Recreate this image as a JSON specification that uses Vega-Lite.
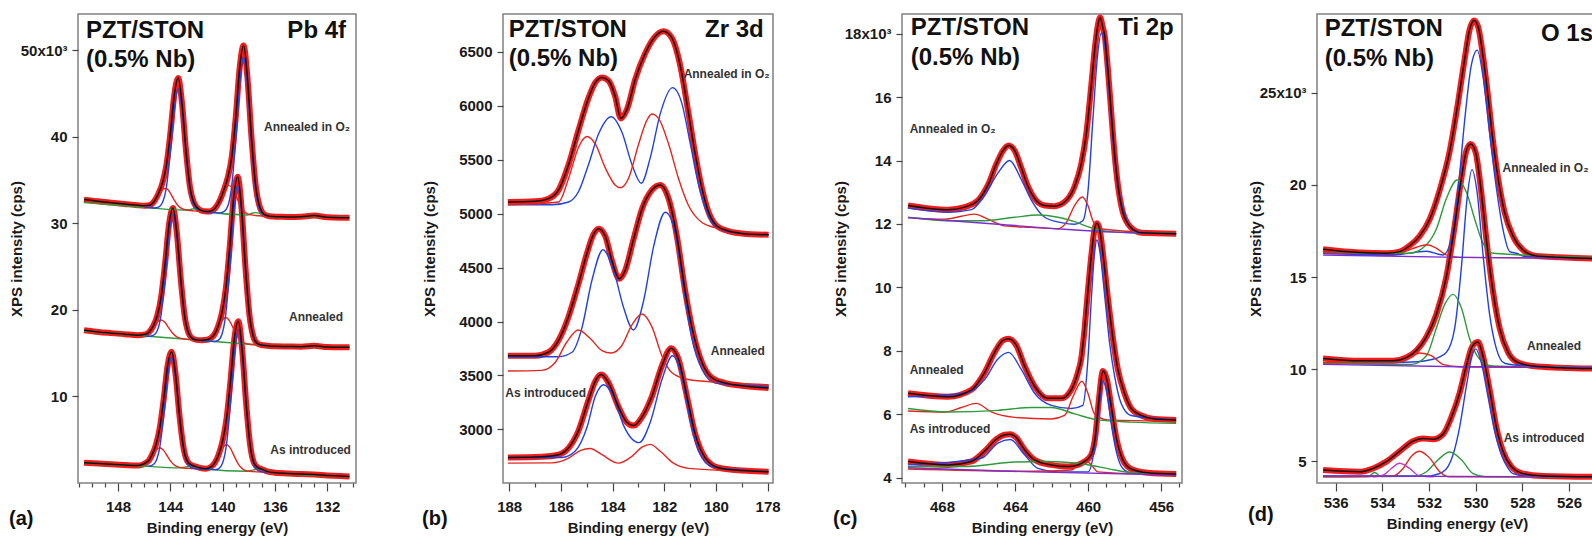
{
"$schema": "https://vega.github.io/schema/vega-lite/v6.json",
"background": "white",
"padding": {"left": 8, "top": 13, "right": 0, "bottom": 0},
"spacing": 51,
"config": {
 "view": {"stroke": "#808080", "strokeWidth": 1.5},
 "font": "Liberation Sans",
 "axis": {"labelFont": "Liberation Sans", "labelFontSize": 15, "labelFontWeight": "bold", "labelColor": "#1a1a1a", "titleFont": "Liberation Sans", "titleFontSize": 15, "titleFontWeight": "bold", "titleColor": "#1a1a1a", "grid": false, "domain": false, "tickColor": "#444", "tickWidth": 1.2, "labelOverlap": false, "labelFlush": false, "labelBound": false},
 "text": {"font": "Liberation Sans"}
},
"resolve": {"scale": {"x": "independent", "y": "independent", "color": "independent"}},
"datasets": {
 "A": [
  {"s":1,"x":150.6,"t":32.75,"g":32.4},{"s":1,"x":149.5,"t":32.55},{"s":1,"x":148.5,"t":32.4},{"s":1,"x":148,"g":32.1},{"s":1,"x":147.5,"t":32.25},{"s":1,"x":146.5,"t":32.1},
  {"s":1,"x":146,"t":32.05,"b":31.87,"r":31.91,"g":31.87},{"s":1,"x":145.6,"t":32.1,"b":31.83,"r":32.06},{"s":1,"x":145.2,"t":32.62,"b":31.78,"r":32.62},{"s":1,"x":144.9,"t":33.47,"b":31.88,"r":33.34},
  {"s":1,"x":144.6,"t":34.67,"b":32.42,"r":33.97},{"s":1,"x":144.3,"t":36.71,"b":34.2,"r":34.04},{"s":1,"x":144,"t":40.36,"b":38.2,"r":33.5},{"s":1,"x":143.7,"t":44.8,"b":43.2,"r":32.7},
  {"s":1,"x":143.4,"t":46.8,"b":45.6,"r":32.05},{"s":1,"x":143.1,"t":43.8,"b":43.1,"r":31.7,"g":31.55},{"s":1,"x":142.8,"t":38.41,"b":38.1,"r":31.55},{"s":1,"x":142.5,"t":34.25,"b":34.0,"r":31.48,"g":31.58},
  {"s":1,"x":142.2,"t":32.4,"b":32.1,"r":31.45,"g":31.7},{"s":1,"x":141.8,"t":31.62,"b":31.47,"r":31.4,"g":31.55},{"s":1,"x":141.4,"t":31.41,"b":31.35,"r":31.36,"g":31.38},{"s":1,"x":141,"t":31.39,"b":31.31,"r":31.39},
  {"s":1,"x":140.6,"t":31.71,"b":31.26,"r":31.71},{"s":1,"x":140.2,"t":32.7,"b":31.22,"r":32.7},{"s":1,"x":139.9,"t":33.89,"b":31.35,"r":33.72},{"s":1,"x":139.6,"t":35.33,"b":32.0,"r":34.4},
  {"s":1,"x":139.3,"t":37.69,"b":34.4,"r":34.21},{"s":1,"x":139,"t":42.2,"b":39.6,"r":33.27},{"s":1,"x":138.7,"t":47.91,"b":46.1,"r":32.21},{"s":1,"x":138.4,"t":50.55,"b":49.2,"r":31.46},
  {"s":1,"x":138.1,"t":46.81,"b":46.0,"r":31.11,"g":30.98},{"s":1,"x":137.8,"t":40.1,"b":39.5,"r":30.98,"g":31.15},{"s":1,"x":137.5,"t":34.73,"b":34.2,"r":30.91,"g":31.25},{"s":1,"x":137.2,"t":32.11,"b":31.75,"r":30.88,"g":31.18},
  {"s":1,"x":136.8,"t":31.02,"b":30.92,"r":30.83,"g":30.93},{"s":1,"x":136.4,"t":30.83,"b":30.8,"r":30.8,"g":30.8},{"s":1,"x":136,"t":30.78},{"s":1,"x":135.5,"t":30.76},{"s":1,"x":135,"t":30.75,"r":30.75},
  {"s":1,"x":134,"t":30.78},{"s":1,"x":133,"t":30.9,"g":30.72},{"s":1,"x":132,"t":30.7},{"s":1,"x":131,"t":30.65},{"s":1,"x":130.3,"t":30.65,"r":30.7,"g":30.7},

  {"s":2,"x":150.6,"t":17.65,"g":17.55},{"s":2,"x":149.5,"t":17.45},{"s":2,"x":148.5,"t":17.32},{"s":2,"x":147.5,"t":17.2},{"s":2,"x":146.5,"t":17.08,"r":17.07,"g":17.06},
  {"s":2,"x":145.9,"t":17.18,"b":16.99,"r":17.18},{"s":2,"x":145.6,"t":17.48,"b":16.95,"r":17.48},{"s":2,"x":145.3,"t":18.16,"b":17.05,"r":18.03},{"s":2,"x":145,"t":19.32,"b":17.59,"r":18.61},
  {"s":2,"x":144.7,"t":21.49,"b":19.49,"r":18.84},{"s":2,"x":144.4,"t":25.36,"b":23.63,"r":18.54},{"s":2,"x":144.1,"t":29.88,"b":28.77,"r":17.88},{"s":2,"x":143.8,"t":31.77,"b":31.04,"r":17.27},
  {"s":2,"x":143.5,"t":28.89,"b":28.5,"r":16.89},{"s":2,"x":143.2,"t":23.53,"b":23.4,"r":16.71},{"s":2,"x":142.9,"t":19.28,"b":19.25,"r":16.63},{"s":2,"x":142.6,"t":17.3,"b":17.3,"r":16.59},
  {"s":2,"x":142.3,"t":16.69,"b":16.69,"r":16.56},{"s":2,"x":142,"t":16.54,"b":16.54,"r":16.52,"g":16.52},{"s":2,"x":141.6,"t":16.5,"b":16.47,"r":16.47},{"s":2,"x":141.2,"t":16.55,"b":16.42,"r":16.51},
  {"s":2,"x":140.65,"t":17.12,"b":16.36,"r":17.12},{"s":2,"x":140.35,"t":18.08,"b":16.49,"r":17.91},{"s":2,"x":140.05,"t":19.68,"b":17.2,"r":18.77},{"s":2,"x":139.75,"t":22.51,"b":19.64,"r":19.12},
  {"s":2,"x":139.45,"t":27.39,"b":24.91,"r":18.69},{"s":2,"x":139.15,"t":33.09,"b":31.3,"r":17.77},{"s":2,"x":138.85,"t":35.4,"b":34.4,"r":16.9},{"s":2,"x":138.55,"t":31.69,"b":31.2,"r":16.37},
  {"s":2,"x":138.25,"t":24.84,"b":24.7,"r":16.14},{"s":2,"x":137.95,"t":19.43,"b":19.42,"r":16.04,"g":16.04},{"s":2,"x":137.65,"t":16.91,"b":16.91,"r":16.0},{"s":2,"x":137.35,"t":16.13,"b":16.13},
  {"s":2,"x":137.05,"t":15.95,"b":15.95},{"s":2,"x":136.6,"t":15.87,"b":15.87},{"s":2,"x":136,"t":15.8,"r":15.8,"g":15.8},{"s":2,"x":135,"t":15.78},{"s":2,"x":134,"t":15.76},
  {"s":2,"x":133,"t":15.85,"r":15.75,"g":15.76},{"s":2,"x":132,"t":15.72},{"s":2,"x":131,"t":15.7},{"s":2,"x":130.3,"t":15.7,"r":15.7,"g":15.7},

  {"s":3,"x":150.6,"t":2.35,"g":2.31},{"s":3,"x":149.5,"t":2.25},{"s":3,"x":148.5,"t":2.17},{"s":3,"x":147.5,"t":2.09},{"s":3,"x":146.5,"t":2.02,"r":2.02,"g":2.0},
  {"s":3,"x":145.7,"t":2.52,"b":1.94,"r":2.52},{"s":3,"x":145.4,"t":3.25,"b":2.03,"r":3.13},{"s":3,"x":145.1,"t":4.42,"b":2.52,"r":3.79},{"s":3,"x":144.8,"t":6.41,"b":4.21,"r":4.07},
  {"s":3,"x":144.5,"t":9.76,"b":7.86,"r":3.74},{"s":3,"x":144.2,"t":13.64,"b":12.42,"r":3.04},{"s":3,"x":143.9,"t":15.18,"b":14.5,"r":2.38},{"s":3,"x":143.6,"t":12.58,"b":12.3,"r":1.98},
  {"s":3,"x":143.3,"t":7.82,"b":7.77,"r":1.8,"g":1.75},{"s":3,"x":143,"t":4.15,"b":4.07,"r":1.73,"g":1.81},{"s":3,"x":142.7,"t":2.52,"b":2.33,"r":1.7,"g":1.89},{"s":3,"x":142.4,"t":2.09,"b":1.8,"r":1.68,"g":1.97},
  {"s":3,"x":142.1,"t":1.92,"b":1.66,"r":1.66,"g":1.92},{"s":3,"x":141.7,"t":1.74,"b":1.63,"r":1.63,"g":1.74},{"s":3,"x":141.3,"t":1.66,"b":1.6,"r":1.64,"g":1.62},{"s":3,"x":140.9,"t":1.85,"b":1.57,"r":1.85},
  {"s":3,"x":140.6,"t":2.32,"b":1.54,"r":2.32},{"s":3,"x":140.3,"t":3.3,"b":1.67,"r":3.15},{"s":3,"x":140,"t":4.86,"b":2.31,"r":4.05},{"s":3,"x":139.7,"t":7.44,"b":4.49,"r":4.42},
  {"s":3,"x":139.4,"t":11.76,"b":9.21,"r":4.0},{"s":3,"x":139.1,"t":16.72,"b":15.0,"r":3.06},{"s":3,"x":138.8,"t":18.68,"b":17.7,"r":2.18},{"s":3,"x":138.5,"t":15.32,"b":14.9,"r":1.66},
  {"s":3,"x":138.2,"t":9.18,"b":9.11,"r":1.42,"g":1.35},{"s":3,"x":137.9,"t":4.44,"b":4.36,"r":1.35,"g":1.41},{"s":3,"x":137.6,"t":2.32,"b":2.12,"r":1.31,"g":1.51},{"s":3,"x":137.3,"t":1.78,"b":1.44,"g":1.63},
  {"s":3,"x":137,"t":1.6,"b":1.29,"g":1.58},{"s":3,"x":136.6,"t":1.34,"b":1.24,"g":1.34},{"s":3,"x":136,"t":1.19,"r":1.19,"g":1.19},{"s":3,"x":135,"t":1.11},{"s":3,"x":134,"t":1.03},
  {"s":3,"x":133,"t":0.98,"r":0.95},{"s":3,"x":132,"t":0.88},{"s":3,"x":131,"t":0.8},{"s":3,"x":130.3,"t":0.76,"r":0.75,"g":0.75}
 ],
 "AT": [
  {"role":"big","x":150.45,"v":52.2,"label":"PZT/STON"},{"role":"big","x":150.45,"v":48.9,"label":"(0.5% Nb)"},{"role":"elem","x":130.56,"v":52.2,"label":"Pb 4f"},
  {"role":"noteR","x":130.25,"v":41.1,"label":"Annealed in O₂"},{"role":"noteR","x":130.79,"v":19.17,"label":"Annealed"},{"role":"noteR","x":130.19,"v":3.83,"label":"As introduced"}
 ],
 "B": [
  {"s":1,"x":188.05,"t":5108},{"s":1,"x":186.99,"t":5114},{"s":1,"x":186.48,"t":5139},{"s":1,"x":186.09,"t":5218},{"s":1,"x":185.7,"t":5456},{"s":1,"x":185.32,"t":5772},{"s":1,"x":184.93,"t":6073},
  {"s":1,"x":184.67,"t":6215},{"s":1,"x":184.41,"t":6263},{"s":1,"x":184.15,"t":6231},{"s":1,"x":183.9,"t":6089},{"s":1,"x":183.68,"t":5883},{"s":1,"x":183.45,"t":5962},{"s":1,"x":183.12,"t":6247},
  {"s":1,"x":182.74,"t":6484},{"s":1,"x":182.35,"t":6642},{"s":1,"x":182.03,"t":6690},{"s":1,"x":181.7,"t":6627},{"s":1,"x":181.38,"t":6373},{"s":1,"x":181.06,"t":5930},{"s":1,"x":180.8,"t":5551},
  {"s":1,"x":180.54,"t":5235},{"s":1,"x":180.28,"t":5013},{"s":1,"x":179.96,"t":4886},{"s":1,"x":179.51,"t":4839},{"s":1,"x":178.99,"t":4817},{"s":1,"x":177.96,"t":4804},
  {"s":1,"x":188.05,"b":5082},{"s":1,"x":186.35,"b":5082},{"s":1,"x":185.7,"b":5108},{"s":1,"x":185.32,"b":5203},{"s":1,"x":184.93,"b":5456},{"s":1,"x":184.54,"b":5740},{"s":1,"x":184.05,"b":5899},
  {"s":1,"x":183.64,"b":5757},{"s":1,"x":183.25,"b":5456},{"s":1,"x":182.89,"b":5282},{"s":1,"x":182.54,"b":5519},{"s":1,"x":182.15,"b":5930},{"s":1,"x":181.68,"b":6168},{"s":1,"x":181.32,"b":6025},
  {"s":1,"x":180.99,"b":5646},{"s":1,"x":180.67,"b":5266},{"s":1,"x":180.35,"b":5013},{"s":1,"x":179.96,"b":4870},{"s":1,"x":179.25,"b":4823},{"s":1,"x":177.96,"b":4805},
  {"s":1,"x":188.05,"r":5082},{"s":1,"x":186.09,"r":5108},{"s":1,"x":185.7,"r":5329},{"s":1,"x":185.32,"r":5614},{"s":1,"x":184.99,"r":5715},{"s":1,"x":184.67,"r":5646},{"s":1,"x":184.28,"r":5424},
  {"s":1,"x":183.9,"r":5266},{"s":1,"x":183.7,"r":5240},{"s":1,"x":183.38,"r":5329},{"s":1,"x":182.99,"r":5646},{"s":1,"x":182.67,"r":5867},{"s":1,"x":182.48,"r":5924},{"s":1,"x":182.22,"r":5883},
  {"s":1,"x":181.83,"r":5646},{"s":1,"x":181.45,"r":5329},{"s":1,"x":181.06,"r":5076},{"s":1,"x":180.54,"r":4918},{"s":1,"x":180.03,"r":4870},{"s":1,"x":179.25,"r":4829},{"s":1,"x":177.96,"r":4808},

  {"s":2,"x":188.05,"t":3683},{"s":2,"x":186.99,"t":3683},{"s":2,"x":186.48,"t":3715},{"s":2,"x":186.09,"t":3826},{"s":2,"x":185.7,"t":4047},{"s":2,"x":185.32,"t":4348},{"s":2,"x":184.99,"t":4633},
  {"s":2,"x":184.74,"t":4807},{"s":2,"x":184.54,"t":4861},{"s":2,"x":184.28,"t":4791},{"s":2,"x":184.03,"t":4570},{"s":2,"x":183.74,"t":4396},{"s":2,"x":183.51,"t":4475},{"s":2,"x":183.19,"t":4760},
  {"s":2,"x":182.86,"t":5044},{"s":2,"x":182.48,"t":5218},{"s":2,"x":182.15,"t":5266},{"s":2,"x":181.83,"t":5139},{"s":2,"x":181.51,"t":4791},{"s":2,"x":181.19,"t":4285},{"s":2,"x":180.86,"t":3874},
  {"s":2,"x":180.54,"t":3620},{"s":2,"x":180.15,"t":3478},{"s":2,"x":179.64,"t":3430},{"s":2,"x":178.99,"t":3405},{"s":2,"x":177.96,"t":3383},
  {"s":2,"x":188.05,"b":3674},{"s":2,"x":186.09,"b":3674},{"s":2,"x":185.57,"b":3715},{"s":2,"x":185.19,"b":3937},{"s":2,"x":184.8,"b":4380},{"s":2,"x":184.37,"b":4665},{"s":2,"x":183.96,"b":4475},
  {"s":2,"x":183.57,"b":4127},{"s":2,"x":183.19,"b":3921},{"s":2,"x":182.8,"b":4190},{"s":2,"x":182.41,"b":4696},{"s":2,"x":181.96,"b":5013},{"s":2,"x":181.57,"b":4823},{"s":2,"x":181.25,"b":4317},
  {"s":2,"x":180.93,"b":3842},{"s":2,"x":180.54,"b":3557},{"s":2,"x":180.03,"b":3430},{"s":2,"x":177.96,"b":3399},
  {"s":2,"x":188.05,"r":3541},{"s":2,"x":186.74,"r":3547},{"s":2,"x":186.22,"r":3620},{"s":2,"x":185.77,"r":3810},{"s":2,"x":185.32,"r":3921},{"s":2,"x":184.86,"r":3842},{"s":2,"x":184.41,"r":3731},
  {"s":2,"x":184.05,"r":3708},{"s":2,"x":183.64,"r":3778},{"s":2,"x":183.25,"r":3968},{"s":2,"x":182.86,"r":4070},{"s":2,"x":182.48,"r":3953},{"s":2,"x":182.09,"r":3683},{"s":2,"x":181.7,"r":3525},
  {"s":2,"x":181.06,"r":3462},{"s":2,"x":179.9,"r":3437},{"s":2,"x":177.96,"r":3414},

  {"s":3,"x":188.05,"t":2740},{"s":3,"x":186.74,"t":2746},{"s":3,"x":186.09,"t":2765},{"s":3,"x":185.7,"t":2829},{"s":3,"x":185.32,"t":2987},{"s":3,"x":184.93,"t":3272},{"s":3,"x":184.67,"t":3446},
  {"s":3,"x":184.44,"t":3509},{"s":3,"x":184.15,"t":3430},{"s":3,"x":183.77,"t":3209},{"s":3,"x":183.45,"t":3066},{"s":3,"x":183.19,"t":3035},{"s":3,"x":182.86,"t":3114},{"s":3,"x":182.48,"t":3304},
  {"s":3,"x":182.09,"t":3589},{"s":3,"x":181.73,"t":3753},{"s":3,"x":181.45,"t":3652},{"s":3,"x":181.12,"t":3304},{"s":3,"x":180.8,"t":2956},{"s":3,"x":180.41,"t":2734},{"s":3,"x":179.9,"t":2645},
  {"s":3,"x":179.25,"t":2623},{"s":3,"x":177.96,"t":2608},
  {"s":3,"x":188.05,"b":2740},{"s":3,"x":185.96,"b":2740},{"s":3,"x":185.45,"b":2797},{"s":3,"x":184.99,"b":3019},{"s":3,"x":184.67,"b":3304},{"s":3,"x":184.35,"b":3414},{"s":3,"x":183.96,"b":3304},
  {"s":3,"x":183.57,"b":3035},{"s":3,"x":182.97,"b":2877},{"s":3,"x":182.54,"b":3066},{"s":3,"x":182.09,"b":3461},{"s":3,"x":181.68,"b":3683},{"s":3,"x":181.32,"b":3494},{"s":3,"x":180.99,"b":3082},
  {"s":3,"x":180.67,"b":2797},{"s":3,"x":180.15,"b":2655},{"s":3,"x":177.96,"b":2608},
  {"s":3,"x":188.05,"r":2687},{"s":3,"x":186.35,"r":2690},{"s":3,"x":185.7,"r":2734},{"s":3,"x":185.25,"r":2804},{"s":3,"x":184.86,"r":2823},{"s":3,"x":184.41,"r":2765},{"s":3,"x":183.77,"r":2687},
  {"s":3,"x":183.25,"r":2750},{"s":3,"x":182.86,"r":2835},{"s":3,"x":182.54,"r":2861},{"s":3,"x":182.15,"r":2797},{"s":3,"x":181.7,"r":2696},{"s":3,"x":181.06,"r":2639},{"s":3,"x":177.96,"r":2608}
 ],
 "BT": [
  {"role":"big","x":188.02,"v":6706,"label":"PZT/STON"},{"role":"big","x":188.02,"v":6436,"label":"(0.5% Nb)"},{"role":"elem","x":178.15,"v":6706,"label":"Zr 3d"},
  {"role":"noteR","x":177.92,"v":6291,"label":"Annealed in O₂"},{"role":"noteR","x":178.11,"v":3728,"label":"Annealed"},{"role":"noteL","x":188.15,"v":3339,"label":"As introduced"}
 ],
 "C": [
  {"s":1,"x":469.86,"t":12.58},{"s":1,"x":468.58,"t":12.48},{"s":1,"x":467.67,"t":12.45},{"s":1,"x":466.76,"t":12.53},{"s":1,"x":466.03,"t":12.74},{"s":1,"x":465.48,"t":13.23},{"s":1,"x":465.03,"t":13.88},
  {"s":1,"x":464.66,"t":14.31},{"s":1,"x":464.35,"t":14.47},{"s":1,"x":464.02,"t":14.31},{"s":1,"x":463.66,"t":13.77},{"s":1,"x":463.29,"t":13.18},{"s":1,"x":462.93,"t":12.8},{"s":1,"x":462.38,"t":12.58},
  {"s":1,"x":461.84,"t":12.56},{"s":1,"x":461.29,"t":12.69},{"s":1,"x":460.74,"t":13.18},{"s":1,"x":460.38,"t":13.88},{"s":1,"x":460.1,"t":14.84},{"s":1,"x":459.83,"t":16.35},{"s":1,"x":459.59,"t":17.75},
  {"s":1,"x":459.46,"t":18.29},{"s":1,"x":459.34,"t":18.51},{"s":1,"x":459.19,"t":18.18},{"s":1,"x":459.1,"t":17.97},{"s":1,"x":458.92,"t":16.89},{"s":1,"x":458.73,"t":15.49},{"s":1,"x":458.55,"t":14.2},
  {"s":1,"x":458.37,"t":13.23},{"s":1,"x":458.1,"t":12.37},{"s":1,"x":457.64,"t":11.88},{"s":1,"x":457.09,"t":11.72},{"s":1,"x":455.18,"t":11.69},
  {"s":1,"x":469.86,"b":12.5},{"s":1,"x":467.67,"b":12.37},{"s":1,"x":466.39,"b":12.45},{"s":1,"x":465.67,"b":12.9},{"s":1,"x":464.94,"b":13.6},{"s":1,"x":464.3,"b":14.0},{"s":1,"x":463.66,"b":13.4},
  {"s":1,"x":463.11,"b":12.75},{"s":1,"x":462.38,"b":12.21},{"s":1,"x":461.47,"b":12.04},{"s":1,"x":460.74,"b":11.99},{"s":1,"x":460.29,"b":12.1},{"s":1,"x":460.01,"b":13.01},{"s":1,"x":459.74,"b":15.28},
  {"s":1,"x":459.5,"b":17.21},{"s":1,"x":459.28,"b":18.02},{"s":1,"x":459.06,"b":17.54},{"s":1,"x":458.83,"b":16.03},{"s":1,"x":458.55,"b":14.1},{"s":1,"x":458.28,"b":12.95},{"s":1,"x":457.91,"b":12.15},
  {"s":1,"x":457.46,"b":11.78},{"s":1,"x":455.18,"b":11.69},
  {"s":1,"x":469.86,"r":12.2},{"s":1,"x":467.85,"r":12.15},{"s":1,"x":466.94,"r":12.24},{"s":1,"x":466.21,"r":12.31},{"s":1,"x":465.48,"r":12.15},{"s":1,"x":464.57,"r":11.94},{"s":1,"x":463.11,"r":11.89},
  {"s":1,"x":461.65,"r":11.85},{"s":1,"x":461.2,"r":12.04},{"s":1,"x":460.74,"r":12.58},{"s":1,"x":460.32,"r":12.85},{"s":1,"x":460.01,"r":12.58},{"s":1,"x":459.74,"r":12.1},{"s":1,"x":459.37,"r":11.85},
  {"s":1,"x":455.18,"r":11.7},
  {"s":1,"x":469.86,"g":12.21},{"s":1,"x":467.67,"g":12.1},{"s":1,"x":465.85,"g":12.1},{"s":1,"x":464.02,"g":12.21},{"s":1,"x":462.75,"g":12.28},{"s":1,"x":461.65,"g":12.21},{"s":1,"x":460.74,"g":12.07},
  {"s":1,"x":459.83,"g":11.88},{"s":1,"x":459.1,"g":11.78},{"s":1,"x":457.64,"g":11.72},{"s":1,"x":455.18,"g":11.7},
  {"s":1,"x":469.86,"p":12.2},{"s":1,"x":464.94,"p":11.99},{"s":1,"x":461.29,"p":11.83},{"s":1,"x":458.55,"p":11.74},{"s":1,"x":455.18,"p":11.69},

  {"s":2,"x":469.86,"t":6.66},{"s":2,"x":467.67,"t":6.55},{"s":2,"x":466.39,"t":6.77},{"s":2,"x":465.67,"t":7.31},{"s":2,"x":465.12,"t":7.95},{"s":2,"x":464.66,"t":8.33},{"s":2,"x":464.35,"t":8.38},
  {"s":2,"x":463.93,"t":8.17},{"s":2,"x":463.48,"t":7.52},{"s":2,"x":462.93,"t":6.88},{"s":2,"x":462.2,"t":6.5},{"s":2,"x":461.47,"t":6.5},{"s":2,"x":460.92,"t":6.77},{"s":2,"x":460.56,"t":7.31},
  {"s":2,"x":460.38,"t":7.74},{"s":2,"x":460.19,"t":8.71},{"s":2,"x":460.01,"t":9.89},{"s":2,"x":459.83,"t":10.97},{"s":2,"x":459.65,"t":11.83},{"s":2,"x":459.52,"t":12.02},{"s":2,"x":459.37,"t":11.83},
  {"s":2,"x":459.19,"t":11.07},{"s":2,"x":458.92,"t":9.68},{"s":2,"x":458.64,"t":8.38},{"s":2,"x":458.37,"t":7.41},{"s":2,"x":458.01,"t":6.66},{"s":2,"x":457.64,"t":6.18},{"s":2,"x":457.09,"t":5.96},
  {"s":2,"x":456.36,"t":5.85},{"s":2,"x":455.18,"t":5.82},
  {"s":2,"x":469.86,"b":6.55},{"s":2,"x":466.76,"b":6.66},{"s":2,"x":465.67,"b":7.09},{"s":2,"x":464.94,"b":7.74},{"s":2,"x":464.35,"b":7.95},{"s":2,"x":463.66,"b":7.41},{"s":2,"x":462.93,"b":6.66},
  {"s":2,"x":462.02,"b":6.28},{"s":2,"x":460.92,"b":6.18},{"s":2,"x":460.29,"b":6.28},{"s":2,"x":460.01,"b":7.74},{"s":2,"x":459.83,"b":9.57},{"s":2,"x":459.65,"b":11.07},{"s":2,"x":459.52,"b":11.5},
  {"s":2,"x":459.37,"b":11.18},{"s":2,"x":459.1,"b":9.78},{"s":2,"x":458.83,"b":8.27},{"s":2,"x":458.55,"b":7.2},{"s":2,"x":458.19,"b":6.34},{"s":2,"x":457.64,"b":5.96},{"s":2,"x":455.18,"b":5.82},
  {"s":2,"x":469.86,"r":6.1},{"s":2,"x":467.85,"r":6.07},{"s":2,"x":466.94,"r":6.21},{"s":2,"x":466.12,"r":6.34},{"s":2,"x":465.3,"r":6.07},{"s":2,"x":464.02,"r":5.9},{"s":2,"x":462.02,"r":5.85},
  {"s":2,"x":461.29,"r":5.96},{"s":2,"x":460.83,"r":6.55},{"s":2,"x":460.34,"r":7.04},{"s":2,"x":460.01,"r":6.66},{"s":2,"x":459.65,"r":6.01},{"s":2,"x":458.92,"r":5.82},{"s":2,"x":455.18,"r":5.78},
  {"s":2,"x":469.86,"g":6.18},{"s":2,"x":467.67,"g":6.07},{"s":2,"x":464.94,"g":6.12},{"s":2,"x":463.11,"g":6.21},{"s":2,"x":462.02,"g":6.21},{"s":2,"x":460.74,"g":6.01},{"s":2,"x":459.46,"g":5.82},
  {"s":2,"x":457.64,"g":5.75},{"s":2,"x":455.18,"g":5.71},

  {"s":3,"x":469.86,"t":4.51},{"s":3,"x":467.67,"t":4.4},{"s":3,"x":466.39,"t":4.51},{"s":3,"x":465.67,"t":4.83},{"s":3,"x":465.03,"t":5.21},{"s":3,"x":464.57,"t":5.35},{"s":3,"x":464.26,"t":5.37},
  {"s":3,"x":463.93,"t":5.26},{"s":3,"x":463.48,"t":4.88},{"s":3,"x":462.93,"t":4.56},{"s":3,"x":462.02,"t":4.4},{"s":3,"x":461.11,"t":4.35},{"s":3,"x":460.56,"t":4.4},{"s":3,"x":460.19,"t":4.51},
  {"s":3,"x":459.83,"t":4.72},{"s":3,"x":459.59,"t":5.37},{"s":3,"x":459.41,"t":6.45},{"s":3,"x":459.19,"t":7.36},{"s":3,"x":458.97,"t":7.09},{"s":3,"x":458.73,"t":6.23},{"s":3,"x":458.46,"t":5.26},
  {"s":3,"x":458.1,"t":4.56},{"s":3,"x":457.64,"t":4.27},{"s":3,"x":456.73,"t":4.15},{"s":3,"x":455.18,"t":4.11},
  {"s":3,"x":469.86,"b":4.4},{"s":3,"x":465.85,"b":4.61},{"s":3,"x":464.94,"b":5.09},{"s":3,"x":464.26,"b":5.2},{"s":3,"x":463.48,"b":4.72},{"s":3,"x":462.75,"b":4.29},{"s":3,"x":461.65,"b":4.18},
  {"s":3,"x":460.01,"b":4.18},{"s":3,"x":459.65,"b":4.94},{"s":3,"x":459.41,"b":6.18},{"s":3,"x":459.19,"b":7.04},{"s":3,"x":458.97,"b":6.66},{"s":3,"x":458.73,"b":5.69},{"s":3,"x":458.46,"b":4.83},
  {"s":3,"x":458.1,"b":4.29},{"s":3,"x":457.64,"b":4.15},{"s":3,"x":455.18,"b":4.11},
  {"s":3,"x":469.86,"r":4.27},{"s":3,"x":463.11,"r":4.2},{"s":3,"x":460.92,"r":4.24},{"s":3,"x":460.47,"r":4.45},{"s":3,"x":460.16,"r":4.56},{"s":3,"x":459.83,"r":4.4},{"s":3,"x":459.46,"r":4.18},
  {"s":3,"x":455.18,"r":4.08},
  {"s":3,"x":469.86,"g":4.35},{"s":3,"x":466.76,"g":4.35},{"s":3,"x":464.02,"g":4.49},{"s":3,"x":462.2,"g":4.51},{"s":3,"x":460.19,"g":4.42},{"s":3,"x":458.55,"g":4.24},{"s":3,"x":457.64,"g":4.16},
  {"s":3,"x":455.18,"g":4.1},
  {"s":3,"x":469.86,"p":4.31},{"s":3,"x":463.11,"p":4.18},{"s":3,"x":455.18,"p":4.08}
 ],
 "CT": [
  {"role":"big","x":469.71,"v":18.18,"label":"PZT/STON"},{"role":"big","x":469.71,"v":17.23,"label":"(0.5% Nb)"},{"role":"elem","x":455.31,"v":18.18,"label":"Ti 2p"},
  {"role":"noteL","x":469.77,"v":15.0,"label":"Annealed in O₂"},{"role":"noteL","x":469.77,"v":7.38,"label":"Annealed"},{"role":"noteL","x":469.77,"v":5.53,"label":"As introduced"}
 ],
 "D": [
  {"s":1,"x":536.54,"t":16.51},{"s":1,"x":534.97,"t":16.33},{"s":1,"x":533.83,"t":16.29},{"s":1,"x":533.26,"t":16.38},{"s":1,"x":532.83,"t":16.7},{"s":1,"x":532.4,"t":17.22},{"s":1,"x":531.97,"t":18.14},
  {"s":1,"x":531.54,"t":19.72},{"s":1,"x":531.11,"t":21.85},{"s":1,"x":530.76,"t":24.44},{"s":1,"x":530.47,"t":26.85},{"s":1,"x":530.26,"t":28.43},{"s":1,"x":530.07,"t":28.93},{"s":1,"x":529.9,"t":28.61},
  {"s":1,"x":529.69,"t":27.04},{"s":1,"x":529.47,"t":24.81},{"s":1,"x":529.26,"t":22.4},{"s":1,"x":529.04,"t":20.37},{"s":1,"x":528.76,"t":18.51},{"s":1,"x":528.4,"t":17.22},{"s":1,"x":527.97,"t":16.47},
  {"s":1,"x":527.4,"t":16.14},{"s":1,"x":526.4,"t":16.07},{"s":1,"x":524.97,"t":16.01},{"s":1,"x":524.4,"t":16.0},
  {"s":1,"x":536.54,"b":16.29},{"s":1,"x":533.54,"b":16.2},{"s":1,"x":532.11,"b":16.4},{"s":1,"x":531.4,"b":16.2},{"s":1,"x":531.04,"b":17.03},{"s":1,"x":530.76,"b":19.62},{"s":1,"x":530.47,"b":23.52},
  {"s":1,"x":530.19,"b":26.48},{"s":1,"x":529.93,"b":27.32},{"s":1,"x":529.69,"b":25.93},{"s":1,"x":529.4,"b":22.78},{"s":1,"x":529.11,"b":19.81},{"s":1,"x":528.83,"b":17.59},{"s":1,"x":528.54,"b":16.38},
  {"s":1,"x":528.26,"b":16.29},{"s":1,"x":527.83,"b":16.1},{"s":1,"x":524.4,"b":16.01},
  {"s":1,"x":536.54,"g":16.33},{"s":1,"x":532.83,"g":16.29},{"s":1,"x":532.11,"g":16.75},{"s":1,"x":531.69,"g":17.59},{"s":1,"x":531.26,"g":19.25},{"s":1,"x":530.79,"g":20.27},{"s":1,"x":530.4,"g":19.62},
  {"s":1,"x":530.04,"g":18.14},{"s":1,"x":529.69,"g":16.84},{"s":1,"x":529.26,"g":16.29},{"s":1,"x":524.4,"g":16.05},
  {"s":1,"x":536.54,"r":16.33},{"s":1,"x":533.11,"r":16.38},{"s":1,"x":532.54,"r":16.62},{"s":1,"x":532.11,"r":16.75},{"s":1,"x":531.69,"r":16.57},{"s":1,"x":531.26,"r":16.2},{"s":1,"x":530.69,"r":16.07},
  {"s":1,"x":524.4,"r":16.01},
  {"s":1,"x":536.54,"p":16.2},{"s":1,"x":530.69,"p":16.07},{"s":1,"x":524.4,"p":16.01},

  {"s":2,"x":536.54,"t":10.58},{"s":2,"x":534.97,"t":10.45},{"s":2,"x":533.54,"t":10.45},{"s":2,"x":532.97,"t":10.63},{"s":2,"x":532.54,"t":11.01},{"s":2,"x":532.11,"t":11.75},{"s":2,"x":531.69,"t":12.95},
  {"s":2,"x":531.26,"t":14.99},{"s":2,"x":530.9,"t":17.77},{"s":2,"x":530.61,"t":20.37},{"s":2,"x":530.4,"t":21.85},{"s":2,"x":530.21,"t":22.22},{"s":2,"x":530.0,"t":21.76},{"s":2,"x":529.76,"t":19.62},
  {"s":2,"x":529.54,"t":17.03},{"s":2,"x":529.26,"t":14.25},{"s":2,"x":528.97,"t":12.21},{"s":2,"x":528.61,"t":10.91},{"s":2,"x":528.19,"t":10.36},{"s":2,"x":527.54,"t":10.17},{"s":2,"x":526.4,"t":10.08},
  {"s":2,"x":524.4,"t":10.02},
  {"s":2,"x":536.54,"b":10.32},{"s":2,"x":532.76,"b":10.39},{"s":2,"x":531.83,"b":10.54},{"s":2,"x":531.26,"b":10.91},{"s":2,"x":530.9,"b":12.21},{"s":2,"x":530.61,"b":15.55},{"s":2,"x":530.37,"b":19.25},
  {"s":2,"x":530.16,"b":20.83},{"s":2,"x":529.94,"b":19.62},{"s":2,"x":529.69,"b":16.29},{"s":2,"x":529.4,"b":12.95},{"s":2,"x":529.11,"b":11.1},{"s":2,"x":528.76,"b":10.32},{"s":2,"x":527.83,"b":10.17},
  {"s":2,"x":524.4,"b":10.08},
  {"s":2,"x":536.54,"g":10.32},{"s":2,"x":532.76,"g":10.26},{"s":2,"x":532.11,"g":10.73},{"s":2,"x":531.69,"g":12.21},{"s":2,"x":531.33,"g":13.5},{"s":2,"x":530.97,"g":14.06},{"s":2,"x":530.61,"g":13.32},
  {"s":2,"x":530.26,"g":11.66},{"s":2,"x":529.83,"g":10.54},{"s":2,"x":529.26,"g":10.17},{"s":2,"x":524.4,"g":10.08},
  {"s":2,"x":536.54,"r":10.36},{"s":2,"x":533.26,"r":10.39},{"s":2,"x":532.83,"r":10.63},{"s":2,"x":532.4,"r":10.88},{"s":2,"x":531.9,"r":10.73},{"s":2,"x":531.4,"r":10.26},{"s":2,"x":530.69,"r":10.13},
  {"s":2,"x":524.4,"r":10.08},
  {"s":2,"x":536.54,"p":10.26},{"s":2,"x":530.69,"p":10.13},{"s":2,"x":524.4,"p":10.08},

  {"s":3,"x":536.54,"t":4.52},{"s":3,"x":534.97,"t":4.43},{"s":3,"x":534.4,"t":4.61},{"s":3,"x":533.83,"t":4.98},{"s":3,"x":533.26,"t":5.54},{"s":3,"x":532.69,"t":6.09},{"s":3,"x":532.26,"t":6.24},
  {"s":3,"x":531.83,"t":6.19},{"s":3,"x":531.4,"t":6.46},{"s":3,"x":531.04,"t":7.39},{"s":3,"x":530.69,"t":8.69},{"s":3,"x":530.4,"t":10.17},{"s":3,"x":530.14,"t":11.25},{"s":3,"x":529.9,"t":11.47},
  {"s":3,"x":529.69,"t":10.73},{"s":3,"x":529.4,"t":8.88},{"s":3,"x":529.11,"t":6.83},{"s":3,"x":528.83,"t":5.54},{"s":3,"x":528.47,"t":4.71},{"s":3,"x":527.97,"t":4.33},{"s":3,"x":527.11,"t":4.2},
  {"s":3,"x":524.4,"t":4.15},
  {"s":3,"x":536.54,"b":4.2},{"s":3,"x":532.11,"b":4.2},{"s":3,"x":531.4,"b":4.43},{"s":3,"x":530.97,"b":5.35},{"s":3,"x":530.69,"b":6.83},{"s":3,"x":530.4,"b":9.06},{"s":3,"x":530.19,"b":10.54},
  {"s":3,"x":530.0,"b":11.1},{"s":3,"x":529.76,"b":10.36},{"s":3,"x":529.47,"b":8.5},{"s":3,"x":529.19,"b":6.65},{"s":3,"x":528.9,"b":5.35},{"s":3,"x":528.61,"b":4.61},{"s":3,"x":528.4,"b":4.33},
  {"s":3,"x":527.83,"b":4.2},{"s":3,"x":524.4,"b":4.15},
  {"s":3,"x":536.54,"g":4.15},{"s":3,"x":534.6,"g":4.17},{"s":3,"x":534.33,"g":4.39},{"s":3,"x":534.05,"g":4.17},{"s":3,"x":532.69,"g":4.18},{"s":3,"x":532.11,"g":4.43},{"s":3,"x":531.61,"g":5.08},
  {"s":3,"x":531.11,"g":5.5},{"s":3,"x":530.61,"g":5.08},{"s":3,"x":530.11,"g":4.33},{"s":3,"x":529.54,"g":4.15},{"s":3,"x":524.4,"g":4.15},
  {"s":3,"x":536.54,"r":4.15},{"s":3,"x":533.54,"r":4.2},{"s":3,"x":533.11,"r":4.61},{"s":3,"x":532.76,"r":5.26},{"s":3,"x":532.4,"r":5.54},{"s":3,"x":531.97,"r":5.17},{"s":3,"x":531.54,"r":4.43},
  {"s":3,"x":531.11,"r":4.15},{"s":3,"x":524.4,"r":4.15},
  {"s":3,"x":534.4,"m":4.16},{"s":3,"x":533.97,"m":4.24},{"s":3,"x":533.61,"m":4.61},{"s":3,"x":533.26,"m":4.89},{"s":3,"x":532.83,"m":4.61},{"s":3,"x":532.4,"m":4.2},{"s":3,"x":531.8,"m":4.15},
  {"s":3,"x":536.54,"p":4.2},{"s":3,"x":524.4,"p":4.15}
 ],
 "DT": [
  {"role":"big","x":536.47,"v":28.45,"label":"PZT/STON"},{"role":"big","x":536.47,"v":26.84,"label":"(0.5% Nb)"},{"role":"elem","x":524.97,"v":28.17,"label":"O 1s"},
  {"role":"noteL","x":528.85,"v":20.94,"label":"Annealed in O₂"},{"role":"noteL","x":527.8,"v":11.26,"label":"Annealed"},{"role":"noteL","x":528.8,"v":6.26,"label":"As introduced"}
 ]
},
"hconcat": [
 {
 "spacing": 64,
 "resolve": {"scale": {"x": "independent", "y": "independent", "color": "independent"}},
 "hconcat": [
 {
  "width": 278, "height": 469,
  "title": {"text": "(a)", "orient": "bottom", "anchor": "start", "frame": "bounds", "fontSize": 20, "fontWeight": "bold", "font": "Liberation Sans", "offset": -26, "color": "#111"},
  "encoding": {
   "x": {"field": "x", "type": "quantitative", "scale": {"domain": [129.8, 151.06], "reverse": true, "nice": false, "zero": false},
    "axis": {"title": "Binding energy (eV)", "format": "d", "values": [130,130.5,131,131.5,132,132.5,133,133.5,134,134.5,135,135.5,136,136.5,137,137.5,138,138.5,139,139.5,140,140.5,141,141.5,142,142.5,143,143.5,144,144.5,145,145.5,146,146.5,147,147.5,148,148.5,149,149.5,150,150.5,151],
     "labelExpr": "datum.value % 4 == 0 ? datum.label : ''", "tickSize": {"condition": {"test": "datum.value % 4 == 0", "value": 8}, "value": 4}, "labelPadding": 8, "titlePadding": 6, "labelOverlap": false}},
   "y": {"field": "v", "type": "quantitative", "scale": {"domain": [0, 54.2], "nice": false, "zero": false},
    "axis": {"title": "XPS intensity (cps)", "values": [10,20,30,40,50], "labelExpr": "datum.value == 50 ? '50x10³' : datum.label", "tickSize": 6, "labelPadding": 5, "minExtent": 46, "maxExtent": 46, "titlePadding": 8, "labelOverlap": false}}
  },
  "layer": [
   {"data": {"name": "A"}, "transform": [{"fold": ["t"], "as": ["k", "v"]}, {"filter": "isValid(datum.v)"}],
    "mark": {"type": "line", "interpolate": "monotone", "color": "#f21c1c", "strokeWidth": 6, "clip": true}, "encoding": {"detail": {"field": "s"}}},
   {"data": {"name": "A"}, "transform": [{"fold": ["b", "r", "g", "p", "m"], "as": ["k", "v"]}, {"filter": "isValid(datum.v)"}],
    "mark": {"type": "line", "interpolate": "monotone", "strokeWidth": 1.4, "clip": true},
    "encoding": {"detail": {"field": "s"}, "color": {"field": "k", "type": "nominal", "scale": {"domain": ["b","r","g","p","m"], "range": ["#2142e0","#e3261f","#2f9a3c","#7b2fd1","#c33ec3"]}, "legend": null}}},
   {"data": {"name": "A"}, "transform": [{"fold": ["t"], "as": ["k", "v"]}, {"filter": "isValid(datum.v)"}],
    "mark": {"type": "line", "interpolate": "monotone", "color": "#111111", "strokeWidth": 1.5, "clip": true}, "encoding": {"detail": {"field": "s"}}},
   {"data": {"name": "AT"}, "transform": [{"filter": "datum.role == 'big'"}], "mark": {"type": "text", "align": "left", "baseline": "middle", "fontSize": 24, "fontWeight": "bold", "color": "#111"}, "encoding": {"text": {"field": "label"}}},
   {"data": {"name": "AT"}, "transform": [{"filter": "datum.role == 'elem'"}], "mark": {"type": "text", "align": "right", "baseline": "middle", "fontSize": 24, "fontWeight": "bold", "color": "#111"}, "encoding": {"text": {"field": "label"}}},
   {"data": {"name": "AT"}, "transform": [{"filter": "datum.role == 'noteR'"}], "mark": {"type": "text", "align": "right", "baseline": "middle", "fontSize": 12, "fontWeight": "bold", "color": "#333"}, "encoding": {"text": {"field": "label"}}}
  ]
 },
 {
  "width": 270, "height": 469,
  "title": {"text": "(b)", "orient": "bottom", "anchor": "start", "frame": "bounds", "fontSize": 20, "fontWeight": "bold", "font": "Liberation Sans", "offset": -26, "color": "#111"},
  "encoding": {
   "x": {"field": "x", "type": "quantitative", "scale": {"domain": [177.79, 188.24], "reverse": true, "nice": false, "zero": false},
    "axis": {"title": "Binding energy (eV)", "format": "d", "values": [178,178.25,178.5,178.75,179,179.25,179.5,179.75,180,180.25,180.5,180.75,181,181.25,181.5,181.75,182,182.25,182.5,182.75,183,183.25,183.5,183.75,184,184.25,184.5,184.75,185,185.25,185.5,185.75,186,186.25,186.5,186.75,187,187.25,187.5,187.75,188],
     "labelExpr": "datum.value % 2 == 0 ? datum.label : ''", "tickSize": {"condition": {"test": "datum.value % 2 == 0", "value": 8}, "value": 4}, "labelPadding": 8, "titlePadding": 6, "labelOverlap": false}},
   "y": {"field": "v", "type": "quantitative", "scale": {"domain": [2503, 6851], "nice": false, "zero": false},
    "axis": {"title": "XPS intensity (cps)", "values": [3000,3500,4000,4500,5000,5500,6000,6500], "format": "d", "tickSize": 6, "labelPadding": 5, "minExtent": 58, "maxExtent": 58, "titlePadding": 8, "labelOverlap": false}}
  },
  "layer": [
   {"data": {"name": "B"}, "transform": [{"fold": ["t"], "as": ["k", "v"]}, {"filter": "isValid(datum.v)"}],
    "mark": {"type": "line", "interpolate": "monotone", "color": "#f21c1c", "strokeWidth": 6, "clip": true}, "encoding": {"detail": {"field": "s"}}},
   {"data": {"name": "B"}, "transform": [{"fold": ["b", "r", "g", "p", "m"], "as": ["k", "v"]}, {"filter": "isValid(datum.v)"}],
    "mark": {"type": "line", "interpolate": "monotone", "strokeWidth": 1.4, "clip": true},
    "encoding": {"detail": {"field": "s"}, "color": {"field": "k", "type": "nominal", "scale": {"domain": ["b","r","g","p","m"], "range": ["#2142e0","#e3261f","#2f9a3c","#7b2fd1","#c33ec3"]}, "legend": null}}},
   {"data": {"name": "B"}, "transform": [{"fold": ["t"], "as": ["k", "v"]}, {"filter": "isValid(datum.v)"}],
    "mark": {"type": "line", "interpolate": "monotone", "color": "#111111", "strokeWidth": 1.5, "clip": true}, "encoding": {"detail": {"field": "s"}}},
   {"data": {"name": "BT"}, "transform": [{"filter": "datum.role == 'big'"}], "mark": {"type": "text", "align": "left", "baseline": "middle", "fontSize": 24, "fontWeight": "bold", "color": "#111"}, "encoding": {"text": {"field": "label"}}},
   {"data": {"name": "BT"}, "transform": [{"filter": "datum.role == 'elem'"}], "mark": {"type": "text", "align": "right", "baseline": "middle", "fontSize": 24, "fontWeight": "bold", "color": "#111"}, "encoding": {"text": {"field": "label"}}},
   {"data": {"name": "BT"}, "transform": [{"filter": "datum.role == 'noteR'"}], "mark": {"type": "text", "align": "right", "baseline": "middle", "fontSize": 12, "fontWeight": "bold", "color": "#333"}, "encoding": {"text": {"field": "label"}}},
   {"data": {"name": "BT"}, "transform": [{"filter": "datum.role == 'noteL'"}], "mark": {"type": "text", "align": "left", "baseline": "middle", "fontSize": 12, "fontWeight": "bold", "color": "#333"}, "encoding": {"text": {"field": "label"}}}
  ]
 }
 ]
 },
 {
 "spacing": 64,
 "resolve": {"scale": {"x": "independent", "y": "independent", "color": "independent"}},
 "hconcat": [
 {
  "width": 280, "height": 469,
  "title": {"text": "(c)", "orient": "bottom", "anchor": "start", "frame": "bounds", "fontSize": 20, "fontWeight": "bold", "font": "Liberation Sans", "offset": -26, "color": "#111"},
  "encoding": {
   "x": {"field": "x", "type": "quantitative", "scale": {"domain": [454.86, 470.19], "reverse": true, "nice": false, "zero": false},
    "axis": {"title": "Binding energy (eV)", "format": "d", "values": [455,455.5,456,456.5,457,457.5,458,458.5,459,459.5,460,460.5,461,461.5,462,462.5,463,463.5,464,464.5,465,465.5,466,466.5,467,467.5,468,468.5,469,469.5,470],
     "labelExpr": "datum.value % 4 == 0 ? datum.label : ''", "tickSize": {"condition": {"test": "datum.value % 4 == 0", "value": 8}, "value": 4}, "labelPadding": 8, "titlePadding": 6, "labelOverlap": false}},
   "y": {"field": "v", "type": "quantitative", "scale": {"domain": [3.83, 18.62], "nice": false, "zero": false},
    "axis": {"title": "XPS intensity (cps)", "values": [4,6,8,10,12,14,16,18], "labelExpr": "datum.value == 18 ? '18x10³' : datum.label", "tickSize": 6, "labelPadding": 5, "minExtent": 46, "maxExtent": 46, "titlePadding": 8, "labelOverlap": false}}
  },
  "layer": [
   {"data": {"name": "C"}, "transform": [{"fold": ["t"], "as": ["k", "v"]}, {"filter": "isValid(datum.v)"}],
    "mark": {"type": "line", "interpolate": "monotone", "color": "#f21c1c", "strokeWidth": 6, "clip": true}, "encoding": {"detail": {"field": "s"}}},
   {"data": {"name": "C"}, "transform": [{"fold": ["b", "r", "g", "p", "m"], "as": ["k", "v"]}, {"filter": "isValid(datum.v)"}],
    "mark": {"type": "line", "interpolate": "monotone", "strokeWidth": 1.4, "clip": true},
    "encoding": {"detail": {"field": "s"}, "color": {"field": "k", "type": "nominal", "scale": {"domain": ["b","r","g","p","m"], "range": ["#2142e0","#e3261f","#2f9a3c","#7b2fd1","#c33ec3"]}, "legend": null}}},
   {"data": {"name": "C"}, "transform": [{"fold": ["t"], "as": ["k", "v"]}, {"filter": "isValid(datum.v)"}],
    "mark": {"type": "line", "interpolate": "monotone", "color": "#111111", "strokeWidth": 1.5, "clip": true}, "encoding": {"detail": {"field": "s"}}},
   {"data": {"name": "CT"}, "transform": [{"filter": "datum.role == 'big'"}], "mark": {"type": "text", "align": "left", "baseline": "middle", "fontSize": 24, "fontWeight": "bold", "color": "#111"}, "encoding": {"text": {"field": "label"}}},
   {"data": {"name": "CT"}, "transform": [{"filter": "datum.role == 'elem'"}], "mark": {"type": "text", "align": "right", "baseline": "middle", "fontSize": 24, "fontWeight": "bold", "color": "#111"}, "encoding": {"text": {"field": "label"}}},
   {"data": {"name": "CT"}, "transform": [{"filter": "datum.role == 'noteL'"}], "mark": {"type": "text", "align": "left", "baseline": "middle", "fontSize": 12, "fontWeight": "bold", "color": "#333"}, "encoding": {"text": {"field": "label"}}}
  ]
 },
 {
  "width": 280, "height": 469,
  "title": {"text": "(d)", "orient": "bottom", "anchor": "start", "frame": "bounds", "fontSize": 20, "fontWeight": "bold", "font": "Liberation Sans", "offset": -26, "color": "#111"},
  "encoding": {
   "x": {"field": "x", "type": "quantitative", "scale": {"domain": [524.8, 536.8], "reverse": true, "nice": false, "zero": false},
    "axis": {"title": "Binding energy (eV)", "format": "d", "values": [526,528,530,532,534,536], "tickSize": 8, "labelPadding": 4, "titlePadding": 6, "labelOverlap": false}},
   "y": {"field": "v", "type": "quantitative", "scale": {"domain": [3.82, 29.28], "nice": false, "zero": false},
    "axis": {"title": "XPS intensity (cps)", "values": [5,10,15,20,25], "labelExpr": "datum.value == 25 ? '25x10³' : datum.label", "tickSize": 6, "labelPadding": 5, "minExtent": 46, "maxExtent": 46, "titlePadding": 8, "labelOverlap": false}}
  },
  "layer": [
   {"data": {"name": "D"}, "transform": [{"fold": ["t"], "as": ["k", "v"]}, {"filter": "isValid(datum.v)"}],
    "mark": {"type": "line", "interpolate": "monotone", "color": "#f21c1c", "strokeWidth": 6, "clip": true}, "encoding": {"detail": {"field": "s"}}},
   {"data": {"name": "D"}, "transform": [{"fold": ["b", "r", "g", "p", "m"], "as": ["k", "v"]}, {"filter": "isValid(datum.v)"}],
    "mark": {"type": "line", "interpolate": "monotone", "strokeWidth": 1.4, "clip": true},
    "encoding": {"detail": {"field": "s"}, "color": {"field": "k", "type": "nominal", "scale": {"domain": ["b","r","g","p","m"], "range": ["#2142e0","#e3261f","#2f9a3c","#7b2fd1","#c33ec3"]}, "legend": null}}},
   {"data": {"name": "D"}, "transform": [{"fold": ["t"], "as": ["k", "v"]}, {"filter": "isValid(datum.v)"}],
    "mark": {"type": "line", "interpolate": "monotone", "color": "#111111", "strokeWidth": 1.5, "clip": true}, "encoding": {"detail": {"field": "s"}}},
   {"data": {"name": "DT"}, "transform": [{"filter": "datum.role == 'big'"}], "mark": {"type": "text", "align": "left", "baseline": "middle", "fontSize": 24, "fontWeight": "bold", "color": "#111"}, "encoding": {"text": {"field": "label"}}},
   {"data": {"name": "DT"}, "transform": [{"filter": "datum.role == 'elem'"}], "mark": {"type": "text", "align": "right", "baseline": "middle", "fontSize": 24, "fontWeight": "bold", "color": "#111"}, "encoding": {"text": {"field": "label"}}},
   {"data": {"name": "DT"}, "transform": [{"filter": "datum.role == 'noteL'"}], "mark": {"type": "text", "align": "left", "baseline": "middle", "fontSize": 12, "fontWeight": "bold", "color": "#333"}, "encoding": {"text": {"field": "label"}}}
  ]
 }
 ]
 }
]
}
